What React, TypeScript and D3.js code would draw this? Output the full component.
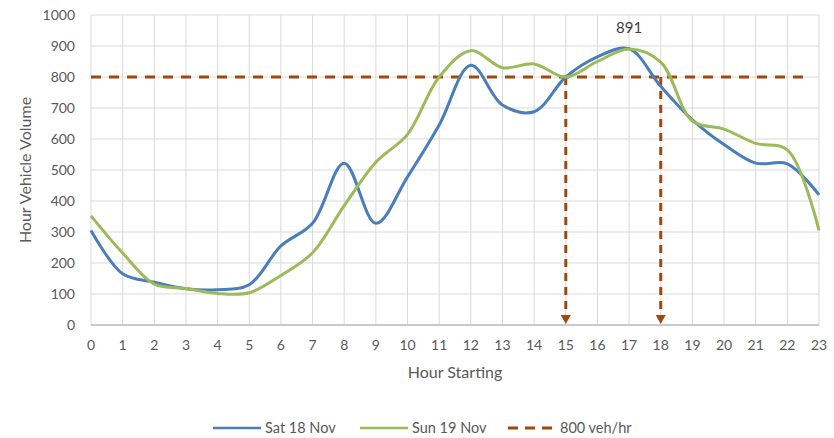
import React, { useEffect, useRef } from "react";
import * as d3 from "d3";

// hours 0..23
const hours: number[] = d3.range(0, 24);

// Sat 18 Nov hourly volumes
const satValues: number[] = [
  305, 165, 138, 117, 114, 130, 255, 328, 522, 328, 478, 645,
  838, 710, 688, 800, 865, 891, 770, 662, 582, 522, 520, 420,
];

// Sun 19 Nov hourly volumes
const sunValues: number[] = [
  352, 232, 132, 118, 102, 104, 160, 233, 385, 525, 615, 800,
  885, 830, 842, 800, 850, 890, 848, 658, 632, 586, 565, 305,
];

const yTicks: number[] = [0, 100, 200, 300, 400, 500, 600, 700, 800, 900, 1000];
const threshold = 800;
const crossHours: number[] = [15, 18];
const peakLabel = { hour: 17, value: 891 };

const BLUE = "#4a7ebb";
const GREEN = "#9bbb59";
const BROWN = "#9e480e";
const TEXT = "#595959";
const FONT = "Lato, 'Open Sans', sans-serif";

const App: React.FC = () => {
  const svgRef = useRef<SVGSVGElement>(null);

  useEffect(() => {
    const svg = d3.select(svgRef.current);
    svg.selectAll("*").remove();

    const left = 91;
    const right = 819;
    const top = 15;
    const bottom = 325;

    const x = d3.scaleLinear().domain([0, 23]).range([left, right]);
    const y = d3.scaleLinear().domain([0, 1000]).range([bottom, top]);

    // gridlines
    const grid = svg.append("g").attr("stroke", "#d9d9d9").attr("stroke-width", 1);
    hours.forEach((h) => {
      grid.append("line")
        .attr("x1", x(h)).attr("x2", x(h))
        .attr("y1", top).attr("y2", bottom);
    });
    yTicks.forEach((t) => {
      grid.append("line")
        .attr("x1", left).attr("x2", right)
        .attr("y1", y(t)).attr("y2", y(t));
    });

    // bottom axis line
    svg.append("line")
      .attr("x1", left).attr("x2", right)
      .attr("y1", bottom).attr("y2", bottom)
      .attr("stroke", "#bfbfbf").attr("stroke-width", 1.5);

    // tick labels
    svg.append("g").selectAll("text")
      .data(yTicks).enter().append("text")
      .attr("x", 75).attr("y", (d) => y(d) + 5)
      .attr("text-anchor", "end")
      .attr("font-family", FONT).attr("font-size", 14).attr("fill", TEXT)
      .text((d) => d);

    svg.append("g").selectAll("text")
      .data(hours).enter().append("text")
      .attr("x", (d) => x(d)).attr("y", bottom + 25)
      .attr("text-anchor", "middle")
      .attr("font-family", FONT).attr("font-size", 14).attr("fill", TEXT)
      .text((d) => d);

    // axis titles
    svg.append("text")
      .attr("transform", `translate(31,${(top + bottom) / 2}) rotate(-90)`)
      .attr("text-anchor", "middle")
      .attr("font-family", FONT).attr("font-size", 16).attr("fill", TEXT)
      .text("Hour Vehicle Volume");

    svg.append("text")
      .attr("x", 455).attr("y", 378)
      .attr("text-anchor", "middle")
      .attr("font-family", FONT).attr("font-size", 16).attr("fill", TEXT)
      .text("Hour Starting");

    // threshold lines
    const dash = "10,8";
    svg.append("line")
      .attr("x1", x(0)).attr("x2", x(23) - 8)
      .attr("y1", y(threshold)).attr("y2", y(threshold))
      .attr("stroke", BROWN).attr("stroke-width", 3)
      .attr("stroke-dasharray", dash);

    crossHours.forEach((h) => {
      svg.append("line")
        .attr("x1", x(h)).attr("x2", x(h))
        .attr("y1", y(threshold)).attr("y2", bottom - 8)
        .attr("stroke", BROWN).attr("stroke-width", 3)
        .attr("stroke-dasharray", "8,6");
      svg.append("path")
        .attr("d", `M${x(h) - 5},${bottom - 10} L${x(h) + 5},${bottom - 10} L${x(h)},${bottom - 1} Z`)
        .attr("fill", BROWN);
    });

    // series lines
    const line = d3.line<number>()
      .x((_, i) => x(hours[i]))
      .y((d) => y(d))
      .curve(d3.curveCatmullRom.alpha(0.5));

    svg.append("path")
      .attr("d", line(satValues) || "")
      .attr("fill", "none").attr("stroke", BLUE).attr("stroke-width", 3);

    svg.append("path")
      .attr("d", line(sunValues) || "")
      .attr("fill", "none").attr("stroke", GREEN).attr("stroke-width", 3);

    // peak label
    svg.append("text")
      .attr("x", x(peakLabel.hour)).attr("y", y(peakLabel.value) - 16)
      .attr("text-anchor", "middle")
      .attr("font-family", FONT).attr("font-size", 15).attr("fill", "#404040")
      .text(peakLabel.value);

    // legend
    const legendY = 428;
    const legend = [
      { label: "Sat 18 Nov", color: BLUE, x0: 213, dashed: false },
      { label: "Sun 19 Nov", color: GREEN, x0: 360, dashed: false },
      { label: "800 veh/hr", color: BROWN, x0: 508, dashed: true },
    ];
    legend.forEach((l) => {
      svg.append("line")
        .attr("x1", l.x0).attr("x2", l.x0 + 48)
        .attr("y1", legendY).attr("y2", legendY)
        .attr("stroke", l.color).attr("stroke-width", l.dashed ? 3 : 2.5)
        .attr("stroke-dasharray", l.dashed ? "10,7" : null);
      svg.append("text")
        .attr("x", l.x0 + 52).attr("y", legendY + 5)
        .attr("font-family", FONT).attr("font-size", 14.5).attr("fill", TEXT)
        .text(l.label);
    });
  }, []);

  return (
    <svg
      ref={svgRef}
      width={834}
      height={438}
      style={{ position: "absolute", left: 0, top: 0, background: "#fff" }}
    ></svg>
  );
};

export default App;
